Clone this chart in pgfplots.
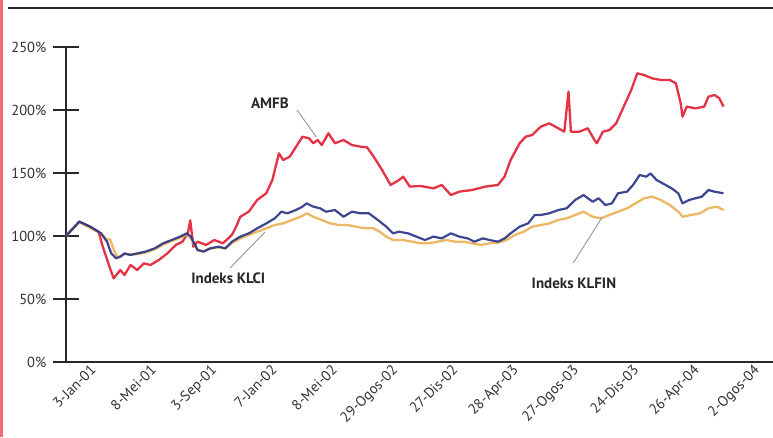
\documentclass[border=0pt]{standalone}
\usepackage{fontspec}
\setmainfont{PT Sans}
\usepackage{pgfplots}
\pgfplotsset{compat=1.18}
\definecolor{amfb}{RGB}{226,34,54}
\definecolor{klfin}{RGB}{44,54,134}
\definecolor{klci}{RGB}{236,176,84}
\definecolor{axiscol}{RGB}{40,40,40}
\definecolor{txtcol}{RGB}{50,50,50}
\definecolor{pinkbar}{RGB}{238,108,118}
\definecolor{leader}{RGB}{150,150,150}
\begin{document}
\begin{tikzpicture}
\useasboundingbox (-66pt,-75pt) rectangle (707pt,362pt);
\fill[white] (-66pt,-75pt) rectangle (707pt,362pt);
\fill[pinkbar] (-66pt,-75pt) rectangle (-62.5pt,362pt);
\draw[line width=1.4pt, axiscol] (-58pt,354pt) -- (707pt,354pt);
\begin{axis}[
  at={(0pt,0pt)}, anchor=south west,
  scale only axis, width=707pt, height=315pt,
  xmin=0, xmax=11.72, ymin=0, ymax=250,
  axis lines=left,
  axis line style={-, line width=1.3pt, axiscol},
  clip=false,
  xtick={0,1,...,11},
  xticklabels={3-Jan-01,8-Mei-01,3-Sep-01,7-Jan-02,8-Mei-02,29-Ogos-02,27-Dis-02,28-Apr-03,27-Ogos-03,24-Dis-03,26-Apr-04,2-Ogos-04},
  x tick style={draw=none},
  ytick={0,50,...,250},
  y tick style={line width=1.3pt, axiscol},
  ytick align=center,
  major tick length=27pt,
  yticklabel={\pgfmathprintnumber[assume math mode=true]{\tick}\%},
  tick label style={font=\fontsize{14.5}{16}\selectfont, text=txtcol},
  xticklabel style={rotate=45, anchor=north east, xshift=26pt, yshift=-7pt, inner sep=1pt},
  yticklabel style={anchor=east, inner sep=1pt},
  yticklabel shift={5pt},
]
\addplot[amfb, line width=2.3pt, line join=round, opacity=0.92] coordinates {
(0,100) (0.22,111.4) (0.40,107.4) (0.54,103.4) (0.61,91.5) (0.72,75.7) (0.79,66.4)
(0.90,73.0) (0.97,69.0) (1.07,77.0) (1.18,73.0) (1.29,78.3) (1.40,77.0) (1.54,81.0)
(1.68,86.2) (1.82,92.9) (1.93,95.5) (2.02,102.1) (2.06,112.5) (2.11,91.5) (2.18,95.5)
(2.32,92.9) (2.46,96.8) (2.60,94.2) (2.75,100.8) (2.82,107.4) (2.89,115.3) (3.03,119.3)
(3.17,128.6) (3.32,133.9) (3.42,144.4) (3.53,165.6) (3.60,160.3) (3.71,163.0) (3.85,173.6)
(3.92,178.8) (4.03,177.5) (4.10,173.6) (4.17,176.2) (4.24,172.2) (4.35,181.5) (4.46,173.6)
(4.60,176.2) (4.74,172.2) (4.88,170.9) (4.99,170.4) (5.10,163.0) (5.24,152.4) (5.38,140.5)
(5.52,144.4) (5.59,147.1) (5.70,139.2) (5.88,139.7) (6.09,137.8) (6.23,140.5) (6.38,132.5)
(6.52,135.2) (6.73,136.5) (6.95,139.2) (7.16,140.5) (7.27,147.1) (7.37,160.3) (7.52,173.6)
(7.62,178.8) (7.73,180.2) (7.87,186.8) (8.01,189.4) (8.16,185.5) (8.26,182.8) (8.33,214.6)
(8.37,182.8) (8.51,182.8) (8.65,185.5) (8.76,176.2) (8.80,173.6) (8.90,182.8) (9.01,184.1)
(9.12,189.4) (9.22,200.0) (9.37,215.9) (9.47,229.1) (9.58,227.8) (9.72,225.1) (9.86,223.8)
(10.01,223.8) (10.11,221.2) (10.19,205.3) (10.22,194.7) (10.29,202.7) (10.43,201.3)
(10.58,202.7) (10.65,210.6) (10.75,211.9) (10.83,209.3) (10.90,202.7)
};
\addplot[klci, line width=2.3pt, line join=round, opacity=0.9] coordinates {
(0,100) (0.22,111) (0.40,106.5) (0.58,102) (0.68,97) (0.73,97.5) (0.80,88) (0.86,83)
(0.97,85.5) (1.18,85.5) (1.32,87) (1.47,89.5) (1.61,93) (1.75,96) (1.89,98.5) (2.00,101)
(2.07,98) (2.18,89) (2.28,88) (2.39,90) (2.53,91) (2.64,90) (2.75,94.5) (2.89,98.1)
(3.03,100.8) (3.17,103.4) (3.32,106.1) (3.46,108.7) (3.60,110.0) (3.74,112.7) (3.89,115.3)
(3.99,118.0) (4.10,115.3) (4.24,112.7) (4.38,110.0) (4.53,108.7) (4.67,108.7) (4.81,107.4)
(4.95,106.1) (5.10,106.1) (5.20,103.4) (5.31,99.5) (5.42,96.8) (5.59,96.8) (5.74,95.5)
(5.88,94.2) (6.02,94.2) (6.16,95.5) (6.31,96.8) (6.45,95.5) (6.59,95.5) (6.73,94.2)
(6.88,92.9) (7.02,94.2) (7.16,94.7) (7.30,96.8) (7.44,100.8) (7.59,103.4) (7.73,107.4)
(7.87,108.7) (8.01,110.0) (8.16,112.7) (8.30,114.0) (8.44,116.7) (8.58,119.3) (8.73,115.3)
(8.87,114.0) (9.01,116.7) (9.15,119.3) (9.30,122.0) (9.44,125.9) (9.58,129.9) (9.72,131.2)
(9.86,128.6) (10.01,124.6) (10.15,119.3) (10.22,115.3) (10.36,116.7) (10.51,118.0)
(10.65,122.0) (10.79,123.3) (10.90,120.6)
};
\addplot[klfin, line width=2.2pt, line join=round, opacity=0.92] coordinates {
(0,100) (0.22,111.4) (0.40,107.4) (0.58,102.1) (0.68,95.5) (0.75,86.2) (0.83,82.3)
(0.90,83.6) (0.97,86.2) (1.07,84.9) (1.18,86.2) (1.32,87.6) (1.47,90.2) (1.61,94.2)
(1.75,96.8) (1.89,99.5) (2.00,102.1) (2.07,99.5) (2.18,88.9) (2.28,87.6) (2.39,90.2)
(2.53,91.5) (2.64,90.2) (2.75,95.5) (2.89,99.5) (3.03,102.1) (3.17,106.1) (3.32,110.0)
(3.46,114.0) (3.57,119.3) (3.67,118.0) (3.81,120.6) (3.92,123.3) (3.99,125.9) (4.10,123.3)
(4.21,122.0) (4.31,119.3) (4.46,120.6) (4.60,115.3) (4.74,119.3) (4.88,118.0) (5.02,118.0)
(5.17,112.7) (5.31,107.4) (5.42,102.1) (5.52,103.4) (5.67,102.1) (5.81,99.5) (5.95,96.8)
(6.09,99.5) (6.23,98.1) (6.38,102.1) (6.52,99.5) (6.66,98.1) (6.77,95.5) (6.91,98.1)
(7.02,96.8) (7.16,95.5) (7.27,98.1) (7.37,102.1) (7.52,107.4) (7.66,110.0) (7.77,116.7)
(7.87,116.7) (8.01,118.0) (8.16,120.6) (8.30,122.0) (8.44,128.6) (8.58,132.5) (8.73,127.2)
(8.83,129.9) (8.94,124.6) (9.05,125.9) (9.15,133.9) (9.30,135.2) (9.40,140.5) (9.51,148.4)
(9.62,147.1) (9.69,149.7) (9.79,144.4) (9.94,140.5) (10.04,137.8) (10.15,133.9)
(10.22,125.9) (10.33,128.6) (10.43,129.9) (10.54,131.2) (10.65,136.5) (10.75,135.2)
(10.90,133.9)
};
\draw[leader, line width=0.9pt] (axis cs:3.83,200) -- (axis cs:4.15,178.6);
\draw[leader, line width=0.9pt] (axis cs:2.72,74.6) -- (axis cs:3.30,103.2);
\draw[leader, line width=0.9pt] (axis cs:8.41,78.6) -- (axis cs:8.89,115.1);
\node[font=\fontsize{15}{17}\selectfont\bfseries, text=black!85] at (axis cs:3.38,205.6) {AMFB};
\node[font=\fontsize{15}{17}\selectfont\bfseries, text=black!85] at (axis cs:2.69,66.7) {Indeks KLCI};
\node[font=\fontsize{15}{17}\selectfont\bfseries, text=black!85] at (axis cs:8.42,62.7) {Indeks KLFIN};
\end{axis}
\end{tikzpicture}
\end{document}
